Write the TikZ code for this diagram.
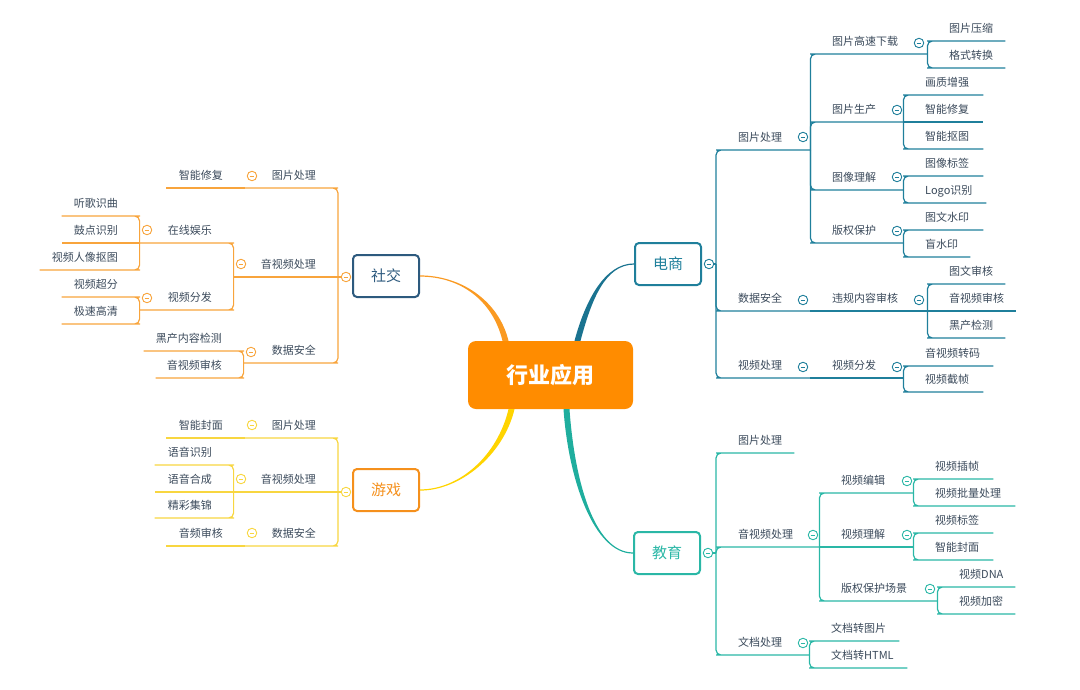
\documentclass[tikz,border=0pt]{standalone}
\usepackage{fontspec}
\newfontfamily\cjk{Noto Sans CJK SC}
\definecolor{txt}{HTML}{3B4A5B}
\definecolor{hubc}{HTML}{FF8C00}
\definecolor{dsc}{HTML}{1F7F9B}
\definecolor{jyc}{HTML}{2AB7A6}
\definecolor{sjc}{HTML}{F8A43C}
\definecolor{yxc}{HTML}{F8D640}
\definecolor{sjbox}{HTML}{2D5A7E}
\definecolor{yxbox}{HTML}{F5901C}
\definecolor{dsk}{HTML}{1A7390}
\definecolor{jyk}{HTML}{1FAE9E}
\definecolor{sjk}{HTML}{FA9A22}
\definecolor{yxk}{HTML}{FFD400}
\colorlet{br}{black}

\begin{document}
\begin{tikzpicture}[x=1pt,y=-1pt,
  hub/.style={fill=hubc,rounded corners=8pt,minimum width=165pt,minimum height=68pt,text=white,font=\cjk\bfseries\fontsize{22}{26}\selectfont},
  box/.style={draw=#1,text=#1,fill=white,line width=2pt,rounded corners=4pt,minimum width=66pt,minimum height=42pt,font=\cjk\fontsize{15}{18}\selectfont},
  rtopic/.style={anchor=south west,text width=#1,align=left,inner xsep=0pt,inner ysep=6pt,text height=8pt,text depth=2pt,text=txt,font=\cjk\fontsize{11}{13}\selectfont,execute at begin node=\noindent\hspace*{17pt}},
  ltopic/.style={anchor=south east,text width=#1,align=right,inner xsep=0pt,inner ysep=6pt,text height=8pt,text depth=2pt,text=txt,font=\cjk\fontsize{11}{13}\selectfont,execute at end node=\kern17pt},
  ln/.style={draw=br,line width=1.2pt,rounded corners=5pt},
  lnx/.style={draw=br,line width=1.2pt},
  fold/.style={circle,draw=br,fill=white,line width=.9pt,minimum size=9.5pt,inner sep=0pt,
    path picture={\draw[br,line width=.9pt] ([xshift=-2.3pt]path picture bounding box.center) -- ([xshift=2.3pt]path picture bounding box.center);}}]
\useasboundingbox (0,0) rectangle (1080,689);

\node[hub] (root) at (550.5,375) {行业应用};

% 电商
\begin{scope}
\colorlet{br}{dsc}
\node[box=dsc] (ds) at (668,264) {电商};
\node[fold] (dsf) at (709,264) {};
\coordinate (dst) at (716,264);
\node[rtopic=89pt] (ds1) at (721,150) {图片处理};
\node[rtopic=89pt] (ds2) at (721,311) {数据安全};
\node[rtopic=89pt] (ds3) at (721,378) {视频处理};
\node[fold] (ds1f) at (803,137) {};
\node[fold] (ds2f) at (803,300) {};
\node[fold] (ds3f) at (803,367) {};
\node[rtopic=112pt] (ds11) at (815,54) {图片高速下载};
\node[rtopic=88pt] (ds12) at (815,122) {图片生产};
\node[rtopic=88pt] (ds13) at (815,190) {图像理解};
\node[rtopic=88pt] (ds14) at (815,243) {版权保护};
\node[rtopic=112pt] (ds21) at (815,311) {违规内容审核};
\node[rtopic=88pt] (ds31) at (815,378) {视频分发};
\node[fold] (ds11f) at (919,43) {};
\node[fold] (ds12f) at (897,110) {};
\node[fold] (ds13f) at (897,177) {};
\node[fold] (ds14f) at (897,231) {};
\node[fold] (ds21f) at (919,300) {};
\node[fold] (ds31f) at (897,367) {};
\node[rtopic=73pt] (ds111) at (932,41) {图片压缩};
\node[rtopic=73pt] (ds112) at (932,68) {格式转换};
\node[rtopic=75pt] (ds121) at (908,95) {画质增强};
\node[rtopic=75pt] (ds122) at (908,122) {智能修复};
\node[rtopic=75pt] (ds123) at (908,149) {智能抠图};
\node[rtopic=75pt] (ds131) at (908,176) {图像标签};
\node[rtopic=78pt] (ds132) at (908,203) {Logo识别};
\node[rtopic=75pt] (ds141) at (908,230) {图文水印};
\node[rtopic=62pt] (ds142) at (908,257) {盲水印};
\node[rtopic=73pt] (ds211) at (932,284) {图文审核};
\node[rtopic=84pt] (ds212) at (932,311) {音视频审核};
\node[rtopic=73pt] (ds213) at (932,338) {黑产检测};
\node[rtopic=85pt] (ds311) at (908,366) {音视频转码};
\node[rtopic=75pt] (ds312) at (908,392) {视频截帧};
\draw[lnx] (dsf) -- (dst);
\foreach \c in {ds1,ds2,ds3}
  \draw[ln] (dst) |- (\c.south west) -- (\c.south east);
\foreach \p/\c in {ds1/ds11,ds1/ds12,ds1/ds13,ds1/ds14,ds11/ds111,ds11/ds112,ds12/ds121,ds12/ds123,
    ds13/ds131,ds13/ds132,ds14/ds141,ds14/ds142,ds21/ds211,ds21/ds213,ds31/ds311,ds31/ds312}
  \draw[ln] (\p.south east) |- (\c.south west) -- (\c.south east);
\foreach \p/\c in {ds2/ds21,ds3/ds31,ds12/ds122,ds21/ds212}
  \draw[lnx] (\p.south east) -- (\c.south east);
\end{scope}

% 教育
\begin{scope}
\colorlet{br}{jyc}
\node[box=jyc] (jy) at (667,553) {教育};
\node[fold] (jyf) at (708,553) {};
\coordinate (jyt) at (716,553);
\node[rtopic=73pt] (jy1) at (721,453) {图片处理};
\node[rtopic=98pt] (jy2) at (721,547) {音视频处理};
\node[rtopic=88pt] (jy3) at (721,655) {文档处理};
\node[fold] (jy2f) at (813,535) {};
\node[fold] (jy3f) at (803,643) {};
\node[rtopic=89pt] (jy21) at (824,493) {视频编辑};
\node[rtopic=89pt] (jy22) at (824,547) {视频理解};
\node[rtopic=113pt] (jy23) at (824,601) {版权保护场景};
\node[fold] (jy21f) at (907,481) {};
\node[fold] (jy22f) at (907,535) {};
\node[fold] (jy23f) at (930,589) {};
\node[rtopic=85pt] (jy31) at (814,641) {文档转图片};
\node[rtopic=93pt] (jy32) at (814,668) {文档转HTML};
\node[rtopic=75pt] (jy211) at (918,479) {视频插帧};
\node[rtopic=97pt] (jy212) at (918,506) {视频批量处理};
\node[rtopic=75pt] (jy221) at (918,533) {视频标签};
\node[rtopic=75pt] (jy222) at (918,560) {智能封面};
\node[rtopic=73pt] (jy231) at (942,587) {视频DNA};
\node[rtopic=73pt] (jy232) at (942,614) {视频加密};
\draw[lnx] (jyf) -- (jyt);
\foreach \c in {jy1,jy2,jy3}
  \draw[ln] (jyt) |- (\c.south west) -- (\c.south east);
\foreach \p/\c in {jy2/jy21,jy2/jy23,jy3/jy31,jy3/jy32,jy21/jy211,jy21/jy212,
    jy22/jy221,jy22/jy222,jy23/jy231,jy23/jy232}
  \draw[ln] (\p.south east) |- (\c.south west) -- (\c.south east);
\draw[lnx] (jy2.south east) -- (jy22.south east);
\end{scope}

% 社交
\begin{scope}
\colorlet{br}{sjc}
\node[box=sjbox] (sj) at (386,276) {社交};
\node[fold] (sjf) at (346,277) {};
\coordinate (sjt) at (338,277);
\node[ltopic=88pt] (sj1) at (333,188) {图片处理};
\node[ltopic=99pt] (sj2) at (333,277) {音视频处理};
\node[ltopic=89pt] (sj3) at (333,363) {数据安全};
\node[fold] (sj1f) at (252,176) {};
\node[fold] (sj2f) at (241,264) {};
\node[fold] (sj3f) at (251,352) {};
\node[ltopic=74pt] (sj11) at (240,188) {智能修复};
\node[ltopic=89pt] (sj21) at (229,243) {在线娱乐};
\node[ltopic=89pt] (sj22) at (229,310) {视频分发};
\node[fold] (sj21f) at (147,230) {};
\node[fold] (sj22f) at (147,298) {};
\node[ltopic=95pt] (sj31) at (239,351) {黑产内容检测};
\node[ltopic=83pt] (sj32) at (239,378) {音视频审核};
\node[ltopic=73pt] (sj211) at (135,216) {听歌识曲};
\node[ltopic=73pt] (sj212) at (135,243) {鼓点识别};
\node[ltopic=95pt] (sj213) at (135,270) {视频人像抠图};
\node[ltopic=73pt] (sj221) at (135,297) {视频超分};
\node[ltopic=73pt] (sj222) at (135,324) {极速高清};
\draw[lnx] (sjf) -- (sjt);
\foreach \c in {sj1,sj3}
  \draw[ln] (sjt) |- (\c.south east) -- (\c.south west);
\draw[lnx] (sjt) -- (sj2.south west);
\foreach \p/\c in {sj2/sj21,sj2/sj22,sj3/sj31,sj3/sj32,sj21/sj211,sj21/sj213,sj22/sj221,sj22/sj222}
  \draw[ln] (\p.south west) |- (\c.south east) -- (\c.south west);
\foreach \p/\c in {sj1/sj11,sj21/sj212}
  \draw[lnx] (\p.south west) -- (\c.south west);
\end{scope}

% 游戏
\begin{scope}
\colorlet{br}{yxc}
\node[box=yxbox] (yx) at (386,490) {游戏};
\node[fold] (yxf) at (346,492) {};
\coordinate (yxt) at (338,492);
\node[ltopic=88pt] (yx1) at (333,438) {图片处理};
\node[ltopic=99pt] (yx2) at (333,492) {音视频处理};
\node[ltopic=88pt] (yx3) at (333,546) {数据安全};
\node[fold] (yx1f) at (252,425) {};
\node[fold] (yx2f) at (241,479) {};
\node[fold] (yx3f) at (252,533) {};
\node[ltopic=74pt] (yx11) at (240,438) {智能封面};
\node[ltopic=74pt] (yx21) at (229,465) {语音识别};
\node[ltopic=74pt] (yx22) at (229,492) {语音合成};
\node[ltopic=74pt] (yx23) at (229,518) {精彩集锦};
\node[ltopic=74pt] (yx31) at (240,546) {音频审核};
\draw[lnx] (yxf) -- (yxt);
\foreach \c in {yx1,yx3}
  \draw[ln] (yxt) |- (\c.south east) -- (\c.south west);
\draw[lnx] (yxt) -- (yx2.south west);
\foreach \p/\c in {yx2/yx21,yx2/yx23}
  \draw[ln] (\p.south west) |- (\c.south east) -- (\c.south west);
\foreach \p/\c in {yx1/yx11,yx2/yx22,yx3/yx31}
  \draw[lnx] (\p.south west) -- (\c.south west);
\end{scope}

% main branches
\fill[dsk] ([xshift=24pt]root.north) .. controls +(11,-41) and +(-29,0) .. ([yshift=.6pt]ds.west)
  -- ([yshift=-.6pt]ds.west) .. controls +(-29,0) and +(11,-41) .. ([xshift=30pt]root.north) -- cycle;
\fill[jyk] ([xshift=19pt]root.south) .. controls +(5,71) and +(-39,0) .. ([yshift=.6pt]jy.west)
  -- ([yshift=-.6pt]jy.west) .. controls +(-39,0) and +(5,71) .. ([xshift=13pt]root.south) -- cycle;
\fill[sjk] ([xshift=-48pt]root.north) .. controls +(-10,-41) and +(40,0) .. ([yshift=-.6pt]sj.east)
  -- ([yshift=.6pt]sj.east) .. controls +(40,0) and +(-10,-41) .. ([xshift=-42pt]root.north) -- cycle;
\fill[yxk] ([xshift=-36pt]root.south) .. controls +(-11,46) and +(40,0) .. ([yshift=-.6pt]yx.east)
  -- ([yshift=.6pt]yx.east) .. controls +(40,0) and +(-11,46) .. ([xshift=-42pt]root.south) -- cycle;
\end{tikzpicture}
\end{document}
